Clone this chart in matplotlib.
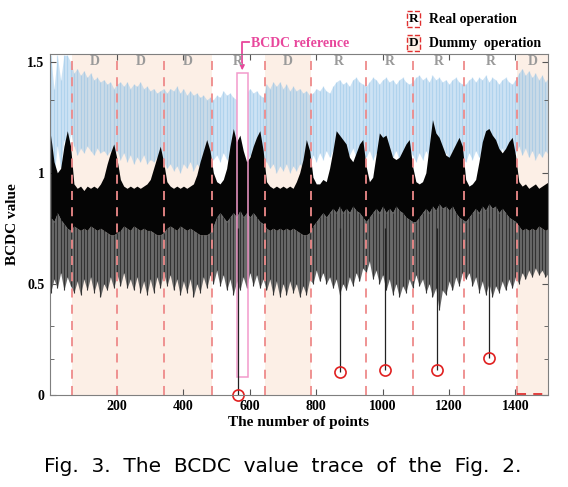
import numpy as np
import matplotlib
matplotlib.use("Agg")
import matplotlib.pyplot as plt
from matplotlib.patches import Rectangle

# envelope samples of the BCDC trace, read every 10 points (x = 0..1500)
pts = np.arange(0, 1501, 10)

blk_top = [1.17, 1.05, 1.00, 1.02, 1.12, 1.19, 1.12, 0.95, 0.93, 0.94,
           0.92, 0.94, 0.93, 0.94, 0.93, 0.95, 0.98, 1.04, 1.09, 1.13,
           1.06, 0.97, 0.94, 0.93, 0.94, 0.93, 0.94, 0.93, 0.94, 0.95,
           0.97, 1.02, 1.07, 1.12, 1.05, 0.96, 0.94, 0.93, 0.94, 0.93,
           0.94, 0.93, 0.94, 0.95, 0.99, 1.05, 1.10, 1.15, 1.10, 1.00,
           0.96, 0.95, 0.97, 1.02, 1.12, 1.20, 1.14, 1.17, 1.10, 1.05,
           1.07, 1.12, 1.16, 1.19, 1.10, 0.96, 0.94, 0.93, 0.94, 0.93,
           0.94, 0.93, 0.94, 0.93, 0.96, 1.00, 1.06, 1.15, 1.10, 0.98,
           0.95, 0.95, 0.97, 0.96, 1.02, 1.10, 1.19, 1.17, 1.15, 1.13,
           1.07, 1.05, 1.09, 1.13, 1.15, 1.03, 0.96, 0.98, 1.08, 1.18,
           1.16, 1.17, 1.12, 1.07, 1.06, 1.07, 1.10, 1.13, 1.15, 1.03,
           0.96, 0.95, 0.96, 1.00, 1.12, 1.24, 1.18, 1.16, 1.12, 1.08,
           1.07, 1.10, 1.13, 1.16, 1.12, 0.97, 0.94, 0.95, 0.97, 1.05,
           1.14, 1.19, 1.20, 1.17, 1.15, 1.11, 1.09, 1.11, 1.14, 1.16,
           1.08, 0.96, 0.94, 0.95, 0.93, 0.94, 0.95, 0.93, 0.94, 0.95,
           0.96]

core_bot = [0.80, 0.78, 0.82, 0.79, 0.77, 0.75, 0.74, 0.76, 0.75, 0.74,
            0.75, 0.74, 0.76, 0.75, 0.74, 0.75, 0.74, 0.73, 0.72, 0.72,
            0.73, 0.74, 0.76, 0.75, 0.74, 0.76, 0.75, 0.74, 0.75, 0.74,
            0.74, 0.73, 0.72, 0.72, 0.73, 0.75, 0.76, 0.75, 0.74, 0.76,
            0.75, 0.74, 0.75, 0.74, 0.73, 0.72, 0.72, 0.72, 0.73, 0.76,
            0.80, 0.82, 0.80, 0.78, 0.80, 0.82, 0.80, 0.83, 0.80, 0.82,
            0.80, 0.82, 0.80, 0.78, 0.77, 0.75, 0.74, 0.75, 0.74, 0.75,
            0.74, 0.75, 0.74, 0.75, 0.74, 0.73, 0.72, 0.72, 0.73, 0.76,
            0.78, 0.80, 0.82, 0.80, 0.82, 0.84, 0.82, 0.85, 0.82, 0.84,
            0.82, 0.85, 0.83, 0.82, 0.80, 0.78, 0.80, 0.82, 0.84, 0.82,
            0.85, 0.82, 0.84, 0.82, 0.85, 0.83, 0.82, 0.80, 0.79, 0.78,
            0.78, 0.80, 0.82, 0.84, 0.82, 0.85, 0.83, 0.86, 0.84, 0.85,
            0.83, 0.85, 0.82, 0.80, 0.79, 0.78, 0.80, 0.82, 0.84, 0.82,
            0.85, 0.83, 0.86, 0.84, 0.85, 0.82, 0.84, 0.82, 0.80, 0.79,
            0.78, 0.76, 0.74, 0.75, 0.74, 0.75, 0.74, 0.76, 0.75, 0.74,
            0.75]

gry_bot = [0.46, 0.52, 0.48, 0.55, 0.47, 0.53, 0.49, 0.46, 0.51, 0.45,
           0.52, 0.47, 0.53, 0.46, 0.51, 0.44, 0.50, 0.47, 0.53, 0.48,
           0.54, 0.49, 0.55, 0.48, 0.52, 0.47, 0.53, 0.46, 0.51, 0.45,
           0.52, 0.46, 0.53, 0.48, 0.55, 0.49, 0.54, 0.47, 0.52, 0.45,
           0.51, 0.46, 0.52, 0.44, 0.50, 0.46, 0.53, 0.48, 0.54, 0.50,
           0.56, 0.49, 0.54, 0.47, 0.52, 0.45, 0.51, 0.47, 0.53, 0.48,
           0.55, 0.49, 0.54, 0.48, 0.52, 0.47, 0.52, 0.45, 0.51, 0.44,
           0.50, 0.45, 0.51, 0.46, 0.50, 0.44, 0.49, 0.45, 0.52, 0.50,
           0.56, 0.51, 0.55, 0.50, 0.53, 0.48, 0.52, 0.45, 0.50, 0.47,
           0.53, 0.49, 0.55, 0.51, 0.57, 0.55, 0.60, 0.52, 0.56, 0.50,
           0.54, 0.47, 0.52, 0.45, 0.50, 0.44, 0.49, 0.46, 0.52, 0.48,
           0.54, 0.49, 0.52, 0.46, 0.50, 0.44, 0.48, 0.38, 0.47, 0.45,
           0.51, 0.47, 0.53, 0.49, 0.55, 0.52, 0.55, 0.49, 0.53, 0.46,
           0.51, 0.45, 0.50, 0.44, 0.49, 0.46, 0.51, 0.47, 0.52, 0.48,
           0.53, 0.50, 0.55, 0.52, 0.56, 0.53, 0.57, 0.54, 0.56, 0.53,
           0.55]

blu_top = [1.53, 1.38, 1.53, 1.42, 1.53, 1.53, 1.50, 1.45, 1.47, 1.44,
           1.46, 1.43, 1.45, 1.42, 1.43, 1.41, 1.42, 1.40, 1.41, 1.38,
           1.40, 1.41, 1.39, 1.41, 1.38, 1.40, 1.39, 1.41, 1.38, 1.39,
           1.37, 1.38, 1.36, 1.37, 1.38, 1.36, 1.38, 1.37, 1.39, 1.36,
           1.38, 1.35, 1.37, 1.35, 1.36, 1.34, 1.35, 1.33, 1.34, 1.33,
           1.35, 1.34, 1.37, 1.35, 1.36, 1.34, 1.33, 1.35, 1.37, 1.36,
           1.38, 1.36, 1.37, 1.35, 1.34, 1.40, 1.38, 1.41, 1.39, 1.41,
           1.38, 1.40, 1.37, 1.39, 1.37, 1.38, 1.36, 1.37, 1.35, 1.36,
           1.38, 1.37, 1.39, 1.37, 1.36, 1.39, 1.41, 1.42, 1.40, 1.41,
           1.39, 1.42, 1.43, 1.41, 1.40, 1.39, 1.41, 1.43, 1.42, 1.40,
           1.42, 1.43, 1.41, 1.42, 1.40, 1.42, 1.43, 1.41, 1.40, 1.41,
           1.43, 1.44, 1.42, 1.43, 1.41, 1.44, 1.42, 1.43, 1.41, 1.42,
           1.40, 1.42, 1.43, 1.41, 1.40, 1.40, 1.42, 1.43, 1.41, 1.43,
           1.42, 1.44, 1.41, 1.43, 1.42, 1.40, 1.42, 1.43, 1.41, 1.40,
           1.42, 1.45, 1.47, 1.44, 1.46, 1.43, 1.45, 1.42, 1.44, 1.41,
           1.43]

blu_bot = [1.05, 0.98, 1.12, 1.02, 1.15, 1.08, 1.18, 1.12, 1.08, 1.11,
           1.09, 1.12, 1.10, 1.08, 1.11, 1.09, 1.10, 1.08, 1.10, 1.08,
           1.10, 1.06, 1.09, 1.05, 1.08, 1.04, 1.07, 1.05, 1.08, 1.04,
           1.06, 1.05, 1.07, 1.04, 1.05, 1.02, 1.04, 1.01, 1.03, 1.00,
           1.04, 1.02, 1.05, 1.01, 1.04, 1.02, 1.06, 1.04, 1.08, 1.06,
           1.08, 1.05, 1.09, 1.06, 1.08, 1.05, 1.09, 1.06, 1.08, 1.05,
           1.08, 1.06, 1.09, 1.05, 1.08, 1.05, 1.02, 1.04, 1.00, 1.03,
           1.01, 1.04, 1.00, 1.03, 1.01, 1.04, 1.02, 1.05, 1.03, 1.08,
           1.05, 1.09, 1.06, 1.10, 1.07, 1.10, 1.08, 1.11, 1.07, 1.10,
           1.08, 1.11, 1.07, 1.10, 1.08, 1.07, 1.10, 1.06, 1.09, 1.07,
           1.10, 1.08, 1.11, 1.07, 1.10, 1.06, 1.09, 1.07, 1.10, 1.08,
           1.05, 1.09, 1.06, 1.10, 1.07, 1.11, 1.08, 1.10, 1.07, 1.09,
           1.06, 1.10, 1.07, 1.09, 1.06, 1.05, 1.09, 1.06, 1.10, 1.07,
           1.10, 1.08, 1.11, 1.07, 1.10, 1.08, 1.11, 1.07, 1.10, 1.08,
           1.09, 1.12, 1.08, 1.11, 1.07, 1.10, 1.06, 1.09, 1.07, 1.10,
           1.08]

# operation segments
bounds = [65, 200, 340, 485, 645, 785, 950, 1090, 1245, 1405]
seg_edges = [65, 200, 340, 485, 645, 785, 950, 1090, 1245, 1405, 1497]
seg_kind = ['D', 'D', 'D', 'R', 'D', 'R', 'R', 'R', 'R', 'D']

# real-operation dips
dip_x = [563, 870, 1008, 1164, 1320]
dip_y = [0.0, 0.10, 0.11, 0.11, 0.165]

SERIF = 'Liberation Serif'
PINK = '#e8479c'
DASH_RED = '#ee8a8a'
PEACH = '#fcefe6'

fig = plt.figure(figsize=(5.68, 4.87), dpi=100)
ax = fig.add_axes([50 / 568, 92.5 / 487, 497.7 / 568, 340.3 / 487])

# shaded dummy regions
for i, k in enumerate(seg_kind):
    if k == 'D':
        ax.axvspan(seg_edges[i], seg_edges[i + 1], color=PEACH, zorder=0, lw=0)
for b in bounds:
    ax.axvline(b, color=DASH_RED, ls=(0, (5, 4)), lw=1.3, zorder=5)
ax.plot([1405, 1497], [0.003, 0.003], color='#e03030', ls=(0, (5, 4)), lw=1.3,
        zorder=6, clip_on=False)

# blue trace: light band + strokes
ax.fill_between(pts, blu_bot, blu_top, color='#9cc8ea', alpha=0.5, lw=0, zorder=1)
ax.vlines(pts, blu_bot, blu_top, color='#6eaee0', alpha=0.3, lw=0.9, zorder=1.2)
ax.add_patch(Rectangle((561, 0.08), 32, 1.37, fc='white', ec='none', zorder=1.5))

# black/gray trace
ax.fill_between(pts, gry_bot, core_bot, color='#6a6a6a', lw=0, zorder=2)
ax.vlines(pts, gry_bot, core_bot, color='#333333', lw=0.8, zorder=2.2)
ax.fill_between(pts, core_bot, blk_top, color='#050505', lw=0, zorder=3)
ax.add_patch(Rectangle((561, 0.08), 32, 1.37, fc='none', ec='#f39acb', lw=1.1, zorder=4))

# dips to circled points
ax.vlines(dip_x, dip_y, 0.75, color='#222222', lw=0.9, zorder=4)
ax.plot(dip_x, dip_y, 'o', ms=8, mfc='none', mec='#e02020', mew=1.2, zorder=7,
        clip_on=False)

# segment labels
for i, k in enumerate(seg_kind):
    ax.text((seg_edges[i] + seg_edges[i + 1]) / 2, 1.5, k, ha='center', va='center',
            family=SERIF, fontweight='bold', fontsize=10, color='#9a9a9a', zorder=8)

# BCDC reference bracket
ax.plot([596, 577, 577], [1.59, 1.59, 1.50], color=PINK, lw=1.3, clip_on=False)
ax.annotate('', xy=(577, 1.45), xytext=(577, 1.51),
            arrowprops=dict(arrowstyle='-|>', color=PINK, lw=1.0, mutation_scale=7),
            annotation_clip=False)
ax.text(603, 1.583, 'BCDC reference', color=PINK, family=SERIF, fontweight='bold',
        fontsize=10, va='center', ha='left')

ax.set_xlim(-2, 1497)
ax.set_ylim(0, 1.535)
ax.set_xticks([200, 400, 600, 800, 1000, 1200, 1400])
ax.set_yticks([0, 0.5, 1, 1.5])
ax.set_yticklabels(['0', '0.5', '1', '1.5'])
ax.set_yticks([0.16, 0.31, 1.33], minor=True)
ax.tick_params(which='both', direction='in', top=True, right=True, color='#555555',
               labelsize=10, pad=4)
ax.tick_params(which='major', length=4)
ax.tick_params(which='minor', length=3)
for lab in ax.get_xticklabels() + ax.get_yticklabels():
    lab.set_family(SERIF)
    lab.set_fontweight('bold')
for sp in ax.spines.values():
    sp.set_color('#7f7f7f')
    sp.set_linewidth(0.8)
    sp.set_zorder(9)

ax.set_xlabel('The number of points', family=SERIF, fontweight='bold', fontsize=11,
              labelpad=2)
ax.set_ylabel('BCDC value', family=SERIF, fontweight='bold', fontsize=11, labelpad=6)

# legend boxes above the axes
for ty, letter, label, fc in [(19, 'R', 'Real operation', 'white'),
                              (43, 'D', 'Dummy  operation', PEACH)]:
    fig.text(413.5 / 568, 1 - ty / 487, letter, ha='center', va='center',
             family=SERIF, fontweight='bold', fontsize=9.5,
             bbox=dict(boxstyle='square,pad=0.12', fc=fc, ec='#e03030', ls='--', lw=1))
    fig.text(429 / 568, 1 - ty / 487, label, ha='left', va='center',
             family=SERIF, fontweight='bold', fontsize=10)

fig.text(283 / 568, 1 - 466 / 487, 'Fig.  3.  The  BCDC  value  trace  of  the  Fig.  2.',
         ha='center', va='center', family='DejaVu Sans', fontsize=14.5)

fig.savefig('out.png', dpi=100)
